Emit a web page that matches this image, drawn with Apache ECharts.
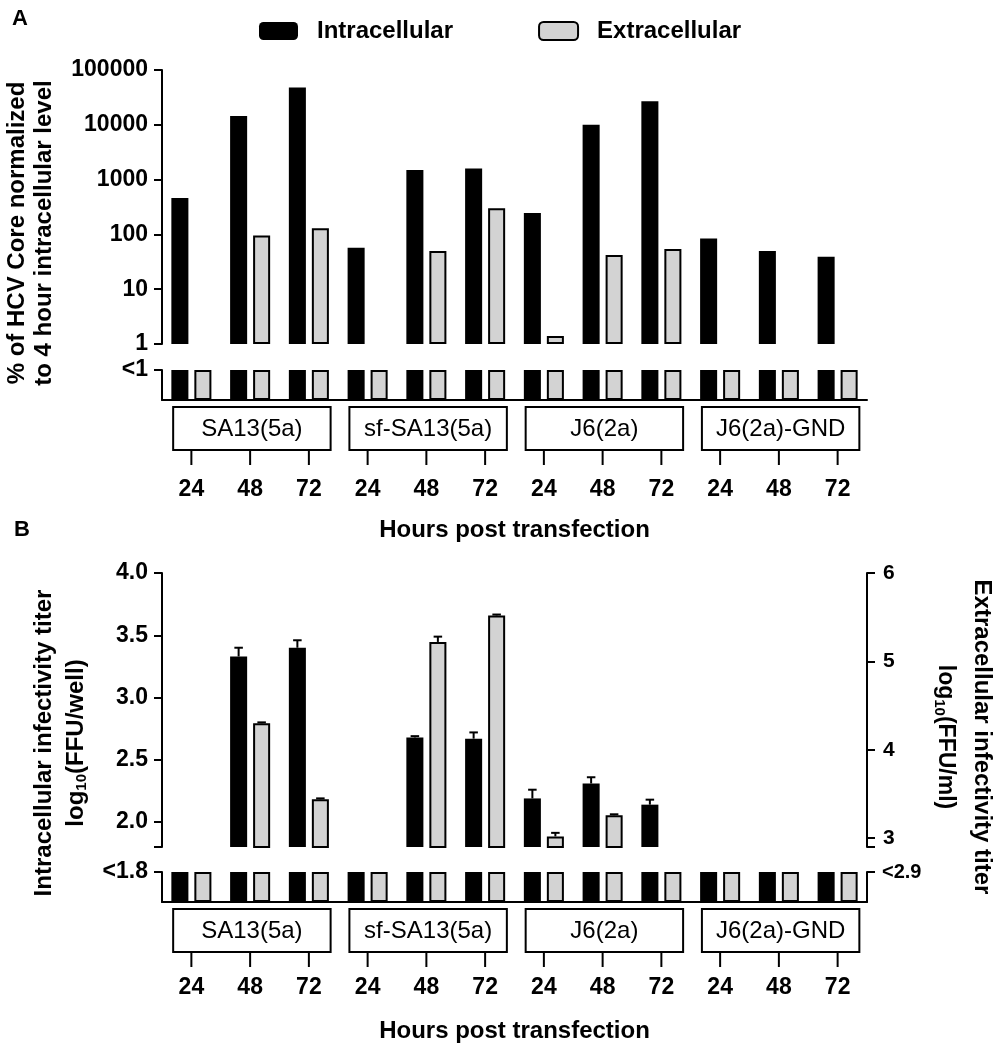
<!DOCTYPE html>
<html>
<head>
<meta charset="utf-8">
<script src="https://cdn.jsdelivr.net/npm/echarts@6/dist/echarts.min.js"></script>
<style>html,body{margin:0;padding:0;background:#fff}#c{width:997px;height:1050px}</style>
</head>
<body>
<div id="c"></div>
<script>
// ---------- data ----------
const groups = ['SA13(5a)', 'sf-SA13(5a)', 'J6(2a)', 'J6(2a)-GND'];
const hours = ['24', '48', '72'];

// Panel A: % of HCV Core normalized to 4 hour intracellular level (log scale)
const coreTicks = [1, 10, 100, 1000, 10000, 100000];
const coreLod = '<1';
const coreIntra = [460, 14500, 48000, 57, 1500, 1600, 245, 10000, 27000, 84, 50, 39];
const coreExtra = ['<1', 95, 130, '<1', 50, 300, 1.4, 42, 54, '<1', '<1', '<1'];

// Panel B: infectivity titers log10
const intraTicks = [2.0, 2.5, 3.0, 3.5, 4.0];
const extraTicks = [3, 4, 5, 6];
const intraLod = '<1.8';
const extraLod = '<2.9';
const intraTiter    = ['<1.8', 3.33, 3.40, '<1.8', 2.68, 2.67, 2.19, 2.31, 2.14, '<1.8', '<1.8', '<1.8'];
const intraTiterErr = [0, 0.07, 0.06, 0, 0.01, 0.05, 0.07, 0.05, 0.04, 0, 0, 0];
const extraTiter    = ['<2.9', 4.30, 3.44, '<2.9', 5.22, 5.52, 3.02, 3.26, '<2.9', '<2.9', '<2.9', '<2.9'];
const extraTiterErr = [0, 0.01, 0.01, 0, 0.06, 0.01, 0.04, 0.01, 0, 0, 0, 0];

// ---------- helpers ----------
const FONT = '"Liberation Sans", Arial, Helvetica, sans-serif';
const BLACK = '#000';
const GREY = '#d3d3d3';
const BAR_W = 0.29, BAR_GAP = 0.35;

const categories = groups.flatMap(() => hours);
const groupSpans = groups.map((g, k) => [k * hours.length, 0, (k + 1) * hours.length - 1]);
const lodNum = s => parseFloat(s.replace('<', ''));

const isLod = v => typeof v === 'string';
const upperData = arr => arr.map(v => (isLod(v) ? '-' : v));
const bandData = arr => arr.map(v => (isLod(v) ? 1 : Math.min(v, 1)));
const errData = (vals, errs) => vals.map((v, i) => (isLod(v) ? null : [i, v, errs[i]])).filter(Boolean);

const blackStyle = { color: BLACK };
const greyStyle = { color: GREY, borderColor: BLACK, borderWidth: 2 };

function renderGroup(params, api) {
  const s = api.value(0), e = api.value(2);
  const bw = api.size([1, 0])[0];
  const pS = api.coord([s, 0]), pE = api.coord([e, 0]);
  const cx = (pS[0] + pE[0]) / 2 + 0.03 * bw;
  const half = 1.34 * bw;
  const top = pS[1] + 7, h = 43;
  const children = [
    { type: 'rect', shape: { x: cx - half, y: top, width: 2 * half, height: h },
      style: { fill: '#fff', stroke: BLACK, lineWidth: 2 } },
    { type: 'text', x: cx, y: top + h / 2 + 1,
      style: { text: groups[params.dataIndex], fontSize: 24, fontFamily: FONT, fill: BLACK,
               align: 'center', verticalAlign: 'middle' } }
  ];
  for (let j = s; j <= e; j++) {
    const x = api.coord([j, 0])[0];
    children.push({ type: 'line', shape: { x1: x, y1: top + h, x2: x, y2: top + h + 15 },
                    style: { stroke: BLACK, lineWidth: 2 } });
  }
  return { type: 'group', children };
}

function errRender(side) {
  return function (params, api) {
    const i = api.value(0), m = api.value(1), e = api.value(2);
    const bw = api.size([1, 0])[0];
    const off = side * bw * BAR_W * (1 + BAR_GAP) / 2;
    const p0 = api.coord([i, m]);
    const p1 = api.coord([i, m + e]);
    const x = p0[0] + off;
    const cap = bw * BAR_W * 0.25;
    return { type: 'group', children: [
      { type: 'line', shape: { x1: x, y1: p0[1], x2: x, y2: p1[1] }, style: { stroke: BLACK, lineWidth: 2 } },
      { type: 'line', shape: { x1: x - cap, y1: p1[1], x2: x + cap, y2: p1[1] }, style: { stroke: BLACK, lineWidth: 2 } }
    ]};
  };
}

const axisLine = { show: true, onZero: false, lineStyle: { color: BLACK, width: 2 } };
const tickStyle = { color: BLACK, width: 2 };
const ticks = vals => ({ show: true, length: 8, lineStyle: tickStyle, customValues: vals });
const labels = (vals, fmt, size, margin) => ({ show: true, customValues: vals, formatter: fmt, margin: margin || 14,
  color: BLACK, fontSize: size || 23, fontWeight: 'bold', fontFamily: FONT });
const noSplit = { show: false };

const hourAxis = (gridIndex, margin, nameGap) => ({
  type: 'category', gridIndex, data: categories, axisLine,
  axisTick: { show: false },
  axisLabel: { interval: 0, margin, color: BLACK, fontSize: 23, fontWeight: 'bold', fontFamily: FONT },
  name: 'Hours post transfection', nameLocation: 'middle', nameGap,
  nameTextStyle: { color: BLACK, fontSize: 24, fontWeight: 'bold', fontFamily: FONT }
});

const barCommon = { barWidth: (BAR_W * 100) + '%', barGap: (BAR_GAP * 100) + '%' };

const option = {
  animation: false,
  backgroundColor: '#fff',
  legend: {
    data: ['Intracellular', 'Extracellular'],
    left: 254, top: 14, itemWidth: 39, itemHeight: 18, itemGap: 85, icon: 'roundRect',
    selectedMode: false,
    textStyle: { color: BLACK, fontSize: 24, fontWeight: 'bold', fontFamily: FONT, lineHeight: 18, padding: [0, 0, 0, 14] }
  },
  grid: [
    { left: 162, right: 130, top: 70, height: 274 },
    { left: 162, right: 130, top: 370, height: 30 },
    { left: 162, right: 130, top: 573, height: 274 },
    { left: 162, right: 130, top: 872, height: 30 }
  ],
  xAxis: [
    { type: 'category', gridIndex: 0, data: categories, show: false },
    hourAxis(1, 78, 118),
    { type: 'category', gridIndex: 2, data: categories, show: false },
    hourAxis(3, 74, 117)
  ],
  yAxis: [
    { type: 'log', logBase: 10, gridIndex: 0, min: coreTicks[0], max: coreTicks[coreTicks.length - 1],
      axisLine, axisTick: { show: true, length: 8, lineStyle: tickStyle },
      axisLabel: { formatter: v => String(Math.round(v)), margin: 14, color: BLACK, fontSize: 23, fontWeight: 'bold', fontFamily: FONT },
      splitLine: noSplit },
    { type: 'value', gridIndex: 1, min: 0, max: 1, axisLine, axisTick: ticks([1]),
      axisLabel: labels([1], () => coreLod), splitLine: noSplit },
    { type: 'value', gridIndex: 2, min: lodNum(intraLod), max: intraTicks[intraTicks.length - 1],
      axisLine, axisTick: ticks([lodNum(intraLod)].concat(intraTicks)),
      axisLabel: labels(intraTicks, v => v.toFixed(1)), splitLine: noSplit },
    { type: 'value', gridIndex: 2, position: 'right', min: lodNum(extraLod), max: extraTicks[extraTicks.length - 1],
      axisLine, axisTick: ticks([lodNum(extraLod)].concat(extraTicks)),
      axisLabel: labels(extraTicks, v => String(v), 21, 16), splitLine: noSplit },
    { type: 'value', gridIndex: 3, min: 0, max: 1, axisLine, axisTick: ticks([1]),
      axisLabel: labels([1], () => intraLod), splitLine: noSplit },
    { type: 'value', gridIndex: 3, position: 'right', min: 0, max: 1, axisLine, axisTick: ticks([1]),
      axisLabel: labels([1], () => extraLod, 20, 15), splitLine: noSplit }
  ],
  series: [
    // Panel A upper (log)
    Object.assign({ type: 'bar', name: 'Intracellular', xAxisIndex: 0, yAxisIndex: 0, data: upperData(coreIntra), itemStyle: blackStyle }, barCommon),
    Object.assign({ type: 'bar', name: 'Extracellular', xAxisIndex: 0, yAxisIndex: 0, data: upperData(coreExtra), itemStyle: greyStyle }, barCommon),
    // Panel A lower (<1 band)
    Object.assign({ type: 'bar', name: 'Intracellular', xAxisIndex: 1, yAxisIndex: 1, data: bandData(coreIntra), itemStyle: blackStyle }, barCommon),
    Object.assign({ type: 'bar', name: 'Extracellular', xAxisIndex: 1, yAxisIndex: 1, data: bandData(coreExtra), itemStyle: greyStyle }, barCommon),
    { type: 'custom', name: 'groupsA', xAxisIndex: 1, yAxisIndex: 1, data: groupSpans, encode: { x: 0, y: 1 }, renderItem: renderGroup, clip: false, z: 5 },
    // Panel B upper
    Object.assign({ type: 'bar', name: 'Intracellular', xAxisIndex: 2, yAxisIndex: 2, data: upperData(intraTiter), itemStyle: blackStyle }, barCommon),
    Object.assign({ type: 'bar', name: 'Extracellular', xAxisIndex: 2, yAxisIndex: 3, data: upperData(extraTiter), itemStyle: greyStyle }, barCommon),
    { type: 'custom', name: 'errIntra', xAxisIndex: 2, yAxisIndex: 2, data: errData(intraTiter, intraTiterErr), encode: { x: 0, y: 1 }, renderItem: errRender(-1), z: 5 },
    { type: 'custom', name: 'errExtra', xAxisIndex: 2, yAxisIndex: 3, data: errData(extraTiter, extraTiterErr), encode: { x: 0, y: 1 }, renderItem: errRender(1), z: 5 },
    // Panel B lower (<LOD band)
    Object.assign({ type: 'bar', name: 'Intracellular', xAxisIndex: 3, yAxisIndex: 4, data: bandData(intraTiter), itemStyle: blackStyle }, barCommon),
    Object.assign({ type: 'bar', name: 'Extracellular', xAxisIndex: 3, yAxisIndex: 5, data: bandData(extraTiter), itemStyle: greyStyle }, barCommon),
    { type: 'custom', name: 'groupsB', xAxisIndex: 3, yAxisIndex: 4, data: groupSpans, encode: { x: 0, y: 1 }, renderItem: renderGroup, clip: false, z: 5 }
  ],
  graphic: [
    { type: 'text', x: 20, y: 19, style: { text: 'A', fontSize: 22, fontWeight: 'bold', fontFamily: FONT, fill: BLACK, align: 'center', verticalAlign: 'middle' } },
    { type: 'text', x: 22, y: 530, style: { text: 'B', fontSize: 22, fontWeight: 'bold', fontFamily: FONT, fill: BLACK, align: 'center', verticalAlign: 'middle' } },
    { type: 'text', x: 31, y: 233, rotation: Math.PI / 2,
      style: { text: '% of HCV Core normalized\nto 4 hour intracellular level', fontSize: 24, lineHeight: 27, fontWeight: 'bold', fontFamily: FONT, fill: BLACK, align: 'center', verticalAlign: 'middle' } },
    { type: 'text', x: 44, y: 743, rotation: Math.PI / 2,
      style: { text: 'Intracellular infectivity titer', fontSize: 24, fontWeight: 'bold', fontFamily: FONT, fill: BLACK, align: 'center', verticalAlign: 'middle' } },
    { type: 'text', x: 76, y: 743, rotation: Math.PI / 2,
      style: { text: '{n|log}{s|10}{n|(FFU/well)}', align: 'center', verticalAlign: 'middle', fill: BLACK,
        rich: { n: { fontSize: 24, fontWeight: 'bold', fontFamily: FONT, fill: BLACK, lineHeight: 26 },
                s: { fontSize: 15, fontWeight: 'bold', fontFamily: FONT, fill: BLACK, verticalAlign: 'bottom', lineHeight: 18 } } } },
    { type: 'text', x: 982, y: 737, rotation: -Math.PI / 2,
      style: { text: 'Extracellular infectivity titer', fontSize: 24, fontWeight: 'bold', fontFamily: FONT, fill: BLACK, align: 'center', verticalAlign: 'middle' } },
    { type: 'text', x: 945, y: 737, rotation: -Math.PI / 2,
      style: { text: '{n|log}{s|10}{n|(FFU/ml)}', align: 'center', verticalAlign: 'middle', fill: BLACK,
        rich: { n: { fontSize: 23, fontWeight: 'bold', fontFamily: FONT, fill: BLACK, lineHeight: 26 },
                s: { fontSize: 15, fontWeight: 'bold', fontFamily: FONT, fill: BLACK, verticalAlign: 'bottom', lineHeight: 18 } } } }
  ]
};

const chart = echarts.init(document.getElementById('c'), null, { renderer: 'canvas' });
chart.setOption(option);
</script>
</body>
</html>
